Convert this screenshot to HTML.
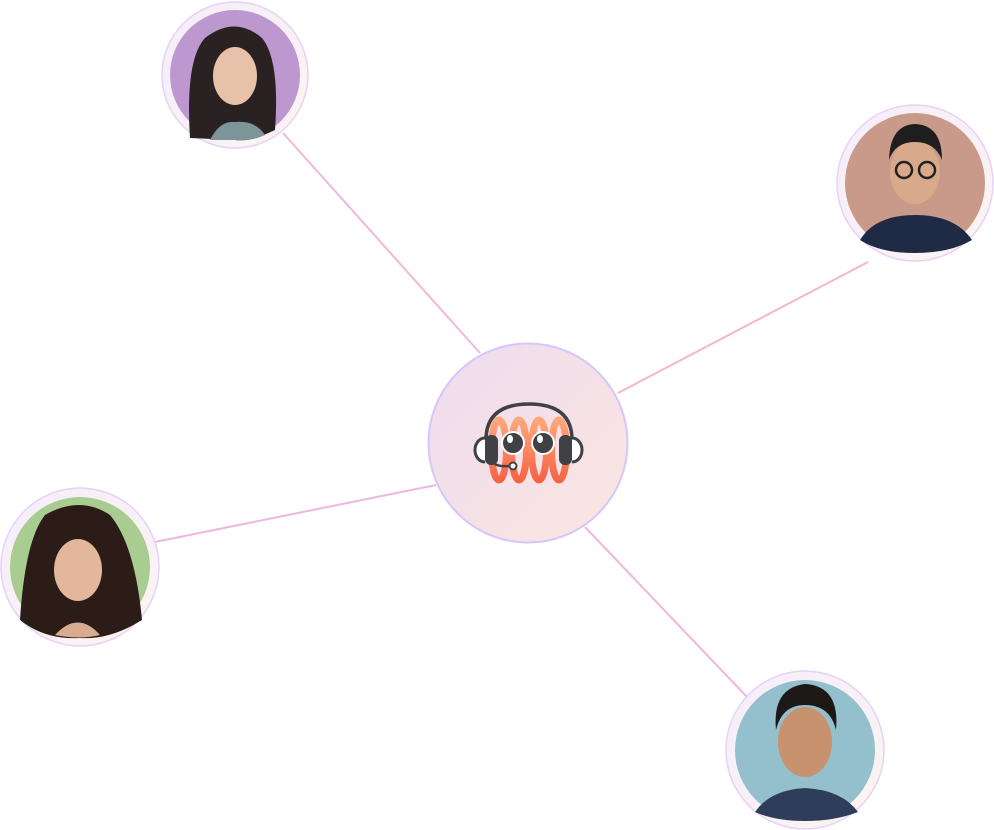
<!DOCTYPE html>
<html><head><style>
html,body{margin:0;padding:0;background:#fff;width:994px;height:830px;overflow:hidden}
</style></head><body>
<svg width="994" height="830" viewBox="0 0 994 830" xmlns="http://www.w3.org/2000/svg">
<defs>
<linearGradient id="cg" x1="0" y1="0" x2="1" y2="1"><stop offset="0" stop-color="#eedcf0"/><stop offset="1" stop-color="#fbe6df"/></linearGradient>
<linearGradient id="coil" x1="0" y1="0" x2="0" y2="1"><stop offset="0" stop-color="#ffa77a"/><stop offset="1" stop-color="#f66446"/></linearGradient>
<linearGradient id="ring" x1="0" y1="0" x2="1" y2="1"><stop offset="0" stop-color="#f4eefb"/><stop offset="1" stop-color="#fdf3f0"/></linearGradient>
</defs>
<g stroke-width="2" fill="none">
<line x1="283" y1="133" x2="480" y2="353" stroke="#f0b8d8"/>
<line x1="618" y1="393" x2="868" y2="262" stroke="#f3b6d0"/>
<line x1="150" y1="543" x2="436" y2="485" stroke="#eeb8dc"/>
<line x1="585" y1="527" x2="748" y2="698" stroke="#eeb8dc"/>
</g>
<circle cx="528" cy="443" r="99.5" fill="url(#cg)" stroke="#d6c6fb" stroke-width="2"/>
<g fill="none" stroke="url(#coil)" stroke-width="7">
<ellipse cx="499" cy="450" rx="7.5" ry="30"/>
<ellipse cx="519" cy="450" rx="7.5" ry="30"/>
<ellipse cx="539" cy="450" rx="7.5" ry="30"/>
<ellipse cx="559" cy="450" rx="7.5" ry="30"/>
</g>
<path d="M486 440 Q486 404 529 404 Q572 404 572 440" fill="none" stroke="#3f4144" stroke-width="3.5"/>
<rect x="485" y="435" width="13" height="30" rx="6" fill="#3f4144"/>
<rect x="559" y="435" width="13" height="30" rx="6" fill="#3f4144"/>
<path d="M485 438 a10 12 0 0 0 0 24" fill="#fff" stroke="#3f4144" stroke-width="3"/>
<path d="M572 438 a10 12 0 0 1 0 24" fill="#fff" stroke="#3f4144" stroke-width="3"/>
<path d="M493 462 Q496 467 510 466" fill="none" stroke="#3f4144" stroke-width="2.5"/>
<circle cx="513" cy="466" r="3.5" fill="#fff" stroke="#3f4144" stroke-width="2"/>
<circle cx="513" cy="443" r="11" fill="#3f4144" stroke="#fff" stroke-width="2"/>
<circle cx="543" cy="443" r="11" fill="#3f4144" stroke="#fff" stroke-width="2"/>
<ellipse cx="510" cy="439" rx="3" ry="4" fill="#fff"/>
<ellipse cx="540" cy="439" rx="3" ry="4" fill="#fff"/>
<g>
<circle cx="235" cy="75" r="73" fill="url(#ring)" stroke="#e6d2f7" stroke-width="1.5"/>
<circle cx="235" cy="75" r="65" fill="#bd97d0"/>
<path d="M190 138 Q185 60 205 38 Q235 15 262 38 Q280 60 275 130 Q250 142 235 140 Z" fill="#2a2222"/>
<path d="M210 140 Q220 120 235 122 Q255 120 265 135 Q250 142 235 140 Z" fill="#7d9499"/>
<ellipse cx="235" cy="76" rx="22" ry="29" fill="#e7c1a8"/>
</g>
<g>
<circle cx="915" cy="183" r="78" fill="url(#ring)" stroke="#e6d2f7" stroke-width="1.5"/>
<circle cx="915" cy="183" r="70" fill="#c99a8a"/>
<path d="M860 240 Q875 215 915 215 Q955 215 972 240 Q950 253 915 253 Q880 253 860 240 Z" fill="#1f2a44"/>
<ellipse cx="915" cy="172" rx="25" ry="32" fill="#d9a98c"/>
<path d="M889 160 Q890 125 915 124 Q942 125 942 160 Q935 142 915 142 Q895 142 889 160 Z" fill="#1e1e1e"/>
<g fill="none" stroke="#222" stroke-width="2.5"><circle cx="904" cy="170" r="8"/><circle cx="927" cy="170" r="8"/></g>
</g>
<g>
<circle cx="80" cy="567" r="79" fill="url(#ring)" stroke="#e6d2f7" stroke-width="1.5"/>
<circle cx="80" cy="567" r="70" fill="#a9cd90"/>
<path d="M20 620 Q25 540 45 515 Q80 495 110 515 Q135 545 142 620 Q110 640 80 638 Q45 640 20 620 Z" fill="#2b1c18"/>
<ellipse cx="78" cy="570" rx="24" ry="31" fill="#e2b79c"/>
<path d="M55 635 Q78 610 100 635 Q80 640 55 635 Z" fill="#d9ac92"/>
</g>
<g>
<circle cx="805" cy="750" r="79" fill="url(#ring)" stroke="#e6d2f7" stroke-width="1.5"/>
<circle cx="805" cy="750" r="70" fill="#94bfcc"/>
<path d="M755 812 Q770 790 805 788 Q842 790 858 812 Q835 821 805 821 Q775 821 755 812 Z" fill="#2e3e5a"/>
<ellipse cx="805" cy="742" rx="27" ry="35" fill="#c8926e"/>
<path d="M776 730 Q772 688 805 684 Q840 686 836 730 Q830 705 805 705 Q782 705 776 730 Z" fill="#1c1816"/>
</g>
</svg>
</body></html>
